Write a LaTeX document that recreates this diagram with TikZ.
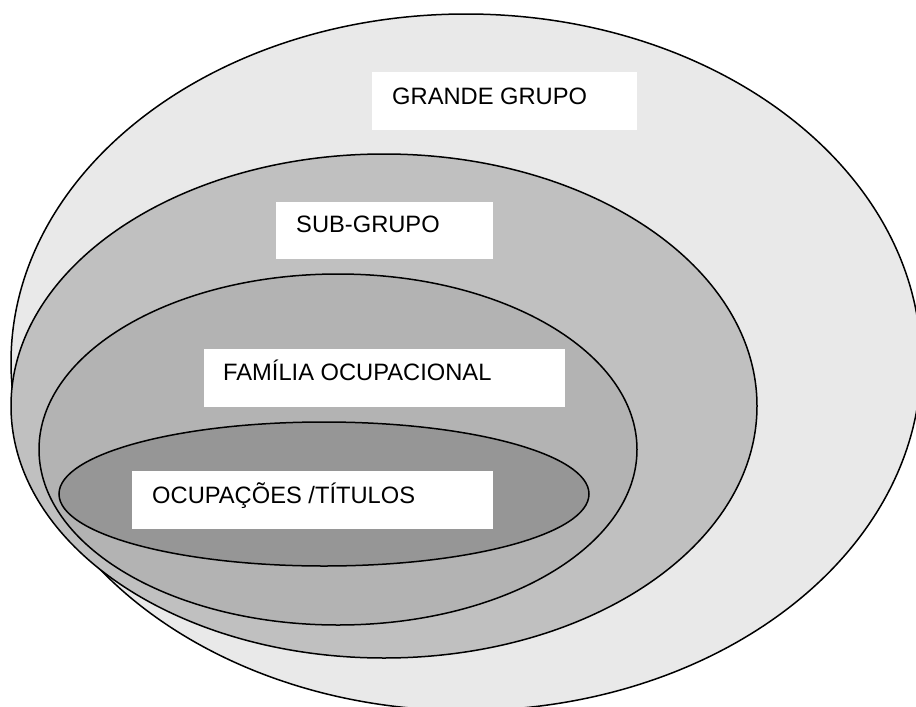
\documentclass[tikz,border=0pt]{standalone}
\usepackage{fontspec}
\setmainfont{Liberation Sans}
\usetikzlibrary{shapes.geometric}
\definecolor{gOuter}{HTML}{E9E9E9}
\definecolor{gSub}{HTML}{C0C0C0}
\definecolor{gFam}{HTML}{B3B3B3}
\definecolor{gOcc}{HTML}{969696}
\tikzset{
  ring/.style={ellipse, draw=black, line width=1.5pt, inner sep=0pt, outer sep=0pt},
  labelbox/.style={fill=white, draw=none, inner sep=0pt, anchor=north west},
  labeltext/.style={anchor=base west, inner sep=0pt, font=\fontsize{23.7}{28}\selectfont, text=black}
}
\begin{document}
\begin{tikzpicture}[x=1pt, y=-1pt]
\useasboundingbox (0,0) rectangle (916,707);
\clip (0,0) rectangle (916,707);
\node[ring, fill=gOuter, minimum width=910pt, minimum height=696.6pt] (outer) at (466,362.3) {};
\node[ring, fill=gSub, minimum width=746pt, minimum height=504pt] (sub) at (384,406) {};
\node[ring, fill=gFam, minimum width=598pt, minimum height=351pt] (fam) at (338,449.5) {};
\node[ring, fill=gOcc, minimum width=530pt, minimum height=144pt] (occ) at (324,494) {};
\node[labelbox, minimum width=265pt, minimum height=58pt] (boxA) at (372,72) {};
\node[labelbox, minimum width=217pt, minimum height=57pt] (boxB) at (276,202) {};
\node[labelbox, minimum width=361pt, minimum height=58pt] (boxC) at (204,349) {};
\node[labelbox, minimum width=361pt, minimum height=58pt] (boxD) at (132,471) {};
\node[labeltext] (tA) at (392,104) {GRANDE GRUPO};
\node[labeltext] (tB) at (296,232.7) {SUB-GRUPO};
\node[labeltext] (tC) at (223,380) {FAMÍLIA OCUPACIONAL};
\node[labeltext] (tD) at (152,503) {OCUPAÇÕES /TÍTULOS};
\end{tikzpicture}
\end{document}
